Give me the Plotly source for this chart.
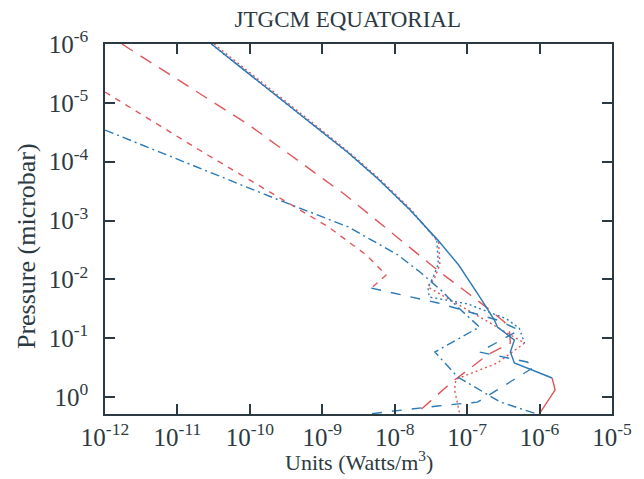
import plotly.graph_objects as go

# Heating/cooling rate profiles (W/m^3) versus pressure (microbar)
total_blue_x = [2.94e-11, 2.77e-10, 2.30e-9, 6.11e-9, 1.63e-8, 3.94e-8, 7.64e-8, 1.53e-7, 2.38e-7, 2.62e-7, 4.49e-7, 3.95e-7, 4.49e-7, 1.49e-6]
total_blue_p = [1e-6, 8.95e-6, 7.13e-5, 2.05e-4, 6.64e-4, 2.15e-3, 5.71e-3, 2.08e-2, 4.92e-2, 6.46e-2, 0.107, 0.172, 0.264, 0.475]

total_red_x = [1.49e-6, 1.64e-6, 9.89e-7]
total_red_p = [0.475, 0.760, 1.95]

long_red_x = [1.71e-12, 9.75e-11, 2.09e-9, 1.30e-8, 4.20e-8, 1.02e-7, 1.91e-7, 3.27e-7, 3.83e-7, 3.95e-7, 1.91e-7, 5.94e-8, 1.96e-8]
long_red_p = [1e-6, 2.38e-5, 3.69e-4, 2.32e-3, 7.52e-3, 1.71e-2, 3.08e-2, 5.32e-2, 7.27e-2, 0.121, 0.193, 0.578, 1.95]

short_red_x = [1e-12, 2.01e-11, 1.22e-9, 4.06e-9, 7.62e-9, 4.75e-9]
short_red_p = [6.55e-6, 6.34e-5, 1.29e-3, 3.86e-3, 8.45e-3, 1.41e-2]

dashdot_blue_x = [1e-12, 2.01e-11, 2.52e-10, 2.30e-9, 4.75e-9, 1.11e-8, 2.23e-8, 4.33e-8, 7.41e-8, 1.48e-7, 3.58e-8, 7.41e-8, 2.88e-7, 9.27e-7]
dashdot_blue_p = [2.90e-5, 1.28e-4, 4.49e-4, 1.29e-3, 2.15e-3, 3.86e-3, 7.52e-3, 1.52e-2, 2.96e-2, 6.46e-2, 0.172, 0.457, 1.22, 1.95]

longdash_blue_x = [4.75e-9, 3.94e-8, 2.62e-7, 5.25e-7, 1.48e-7, 6.76e-7, 8.44e-7, 1.39e-7, 3.94e-8, 4.31e-9]
longdash_blue_p = [1.41e-2, 2.52e-2, 4.92e-2, 7.27e-2, 0.172, 0.254, 0.309, 1.22, 1.42, 1.95]

dot_blue_x = [2.94e-11, 2.77e-10, 2.30e-9, 6.11e-9, 1.63e-8, 3.80e-8, 4.00e-8, 3.40e-8, 2.87e-8, 3.00e-8, 1.00e-7, 3.50e-7, 5.25e-7, 6.20e-7]
dot_blue_p = [1e-6, 8.95e-6, 7.13e-5, 2.05e-4, 6.64e-4, 2.1e-3, 5.4e-3, 9.2e-3, 1.35e-2, 2.0e-2, 2.6e-2, 4.7e-2, 6.8e-2, 0.121]

dot_red_x = [3.20e-11, 3.0e-10, 2.42e-9, 6.4e-9, 1.70e-8, 4.05e-8, 4.20e-8, 3.50e-8, 2.87e-8, 6.20e-7, 2.62e-7, 7.0e-8, 6.7e-8, 7.9e-8]
dot_red_p = [1e-6, 8.95e-6, 7.13e-5, 2.05e-4, 6.64e-4, 2.4e-3, 5.6e-3, 1.0e-2, 1.35e-2, 0.121, 0.264, 0.50, 0.75, 1.95]

x_ticks = [1e-12, 1e-11, 1e-10, 1e-9, 1e-8, 1e-7, 1e-6, 1e-5]
x_labels = ["10<sup>-12</sup>", "10<sup>-11</sup>", "10<sup>-10</sup>", "10<sup>-9</sup>",
            "10<sup>-8</sup>", "10<sup>-7</sup>", "10<sup>-6</sup>", "10<sup>-5</sup>"]
y_ticks = [1e-6, 1e-5, 1e-4, 1e-3, 1e-2, 1e-1, 1e0]
y_labels = ["10<sup>-6</sup>", "10<sup>-5</sup>", "10<sup>-4</sup>", "10<sup>-3</sup>",
            "10<sup>-2</sup>", "10<sup>-1</sup>", "10<sup>0</sup>"]

BLUE = "#2a7ab8"
RED = "#e0575b"
INK = "#2b3a42"
FONT = "Liberation Serif"

fig = go.Figure()

def add(x, p, color, dash, width=1.4):
    fig.add_trace(go.Scatter(x=x, y=p, mode="lines",
                             line=dict(color=color, dash=dash, width=width),
                             showlegend=False, hoverinfo="skip"))

add(total_red_x, total_red_p, RED, "solid")
add(dot_red_x, dot_red_p, RED, "2px,3px")
add(long_red_x, long_red_p, RED, "13px,9px")
add(short_red_x, short_red_p, RED, "6px,6px")
add(dashdot_blue_x, dashdot_blue_p, BLUE, "9px,4px,2px,4px")
add(longdash_blue_x, longdash_blue_p, BLUE, "10px,10px")
add(dot_blue_x, dot_blue_p, BLUE, "2px,3px")
add(total_blue_x, total_blue_p, BLUE, "solid")

axis_common = dict(
    type="log", showgrid=False, zeroline=False,
    showline=True, linecolor=INK, linewidth=1.5, mirror="ticks",
    ticks="inside", ticklen=10, tickwidth=1.5, tickcolor=INK,
    tickfont=dict(family=FONT, size=25, color=INK),
)

fig.update_xaxes(range=[-12, -5], tickvals=x_ticks, ticktext=x_labels,
                 ticklabelstandoff=0, **axis_common)
fig.update_yaxes(range=[0.289, -6], tickvals=y_ticks, ticktext=y_labels,
                 ticklabelstandoff=10, **axis_common)

fig.update_layout(
    width=644, height=479,
    margin=dict(l=105, r=29, t=44, b=65),
    plot_bgcolor="white", paper_bgcolor="white",
    title=dict(text="JTGCM EQUATORIAL", x=0.54, xanchor="center",
               y=1 - 19 / 479, yref="container", yanchor="middle",
               font=dict(family=FONT, size=23, color=INK)),
    annotations=[
        dict(text="Units (Watts/m<sup>3</sup>)", x=0.5, y=-0.1716, xref="paper", yref="paper",
             xanchor="center", yanchor="bottom", showarrow=False,
             font=dict(family=FONT, size=22, color=INK)),
        dict(text="Pressure (microbar)", x=-0.155, y=0.455, xref="paper", yref="paper",
             xanchor="center", yanchor="middle", showarrow=False, textangle=-90,
             font=dict(family=FONT, size=26, color=INK)),
    ],
)

fig.write_html("out.html")
